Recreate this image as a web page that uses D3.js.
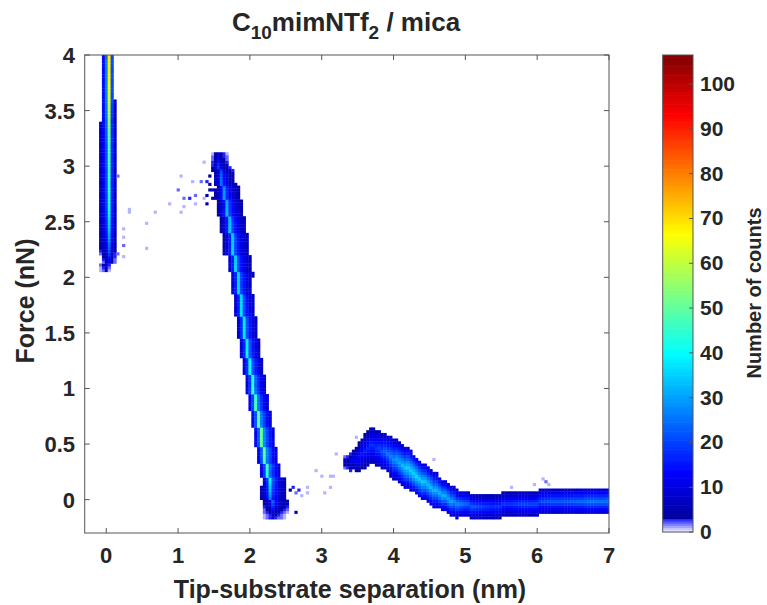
<!DOCTYPE html>
<html><head><meta charset="utf-8">
<script src="https://cdn.jsdelivr.net/npm/d3@7"></script>
<style>
body{margin:0;background:#fff;}
svg text{font-family:"Liberation Sans",Arial,Helvetica,sans-serif;font-weight:bold;fill:#262626;}
</style></head><body>
<svg id="chart" width="767" height="605"></svg>
<script>
// ---------------- data ----------------
const xTicks = [0, 1, 2, 3, 4, 5, 6, 7];
const yTicks = [0, 0.5, 1, 1.5, 2, 2.5, 3, 3.5, 4];
const yTickLabels = ["0", "0.5", "1", "1.5", "2", "2.5", "3", "3.5", "4"];
const cbTicks = [0, 10, 20, 30, 40, 50, 60, 70, 80, 90, 100];
const countMax = 106.5;
const binX = 0.04, binF = 0.025;   // 2D histogram bin size (nm, nN)

// Branch A: hard-wall branch near 0 nm (anchors by force)
const wallF     = [2.06, 2.12, 2.25, 2.40, 2.60, 2.80, 3.00, 3.20, 3.40, 3.60, 3.80, 4.00];
const wallX     = [0.01, 0.02, 0.03, 0.04, 0.04, 0.04, 0.04, 0.04, 0.04, 0.04, 0.04, 0.04];
const wallHalfL = [0.08, 0.10, 0.13, 0.13, 0.13, 0.12, 0.12, 0.12, 0.12, 0.11, 0.10, 0.10];
const wallHalfR = [0.06, 0.08, 0.10, 0.10, 0.09, 0.09, 0.09, 0.09, 0.08, 0.08, 0.07, 0.07];
const wallPeak  = [5, 10, 22, 32, 40, 44, 46, 48, 54, 62, 68, 68];

// Branch B: steep branch between 3.1 nN and the last layer (anchors by force)
const layerF     = [-0.15, -0.05, 0.05, 0.20, 0.40, 0.60, 0.80, 1.00, 1.20, 1.40, 1.60, 1.80, 2.00, 2.20, 2.40, 2.60, 2.80, 2.90, 3.00, 3.10];
const layerX     = [2.32, 2.31, 2.29, 2.26, 2.20, 2.15, 2.10, 2.05, 2.00, 1.95, 1.91, 1.87, 1.83, 1.78, 1.74, 1.69, 1.63, 1.60, 1.57, 1.54];
const layerHalfL = [0.12, 0.14, 0.13, 0.11, 0.11, 0.11, 0.11, 0.11, 0.11, 0.11, 0.11, 0.11, 0.11, 0.12, 0.12, 0.12, 0.12, 0.11, 0.10, 0.08];
const layerHalfR = [0.18, 0.24, 0.22, 0.20, 0.19, 0.19, 0.19, 0.19, 0.19, 0.19, 0.19, 0.19, 0.20, 0.21, 0.22, 0.22, 0.21, 0.19, 0.16, 0.12];
const layerPeak  = [6, 18, 30, 42, 50, 52, 48, 44, 40, 38, 38, 36, 36, 35, 34, 32, 28, 24, 18, 10];

// Branch C: outer layer and flat tail (anchors by separation)
const outerX    = [3.33, 3.40, 3.50, 3.60, 3.70, 3.80, 3.90, 4.00, 4.10, 4.20, 4.30, 4.40, 4.50, 4.60, 4.70, 4.80, 4.90, 5.00, 5.20, 5.40, 5.60, 5.80, 6.00, 6.20, 6.40, 6.60, 6.80, 7.00];
const outerF    = [0.35, 0.34, 0.38, 0.44, 0.49, 0.46, 0.42, 0.37, 0.33, 0.28, 0.23, 0.17, 0.125, 0.08, 0.035, -0.01, -0.03, -0.046, -0.06, -0.055, -0.045, -0.035, -0.025, -0.015, -0.01, -0.005, 0.0, 0.0];
const outerHalf = [0.05, 0.08, 0.12, 0.15, 0.17, 0.17, 0.17, 0.18, 0.18, 0.18, 0.17, 0.17, 0.16, 0.15, 0.14, 0.135, 0.125, 0.12, 0.11, 0.11, 0.11, 0.115, 0.12, 0.12, 0.12, 0.12, 0.12, 0.12];
const outerPeak = [6, 10, 14, 16, 18, 20, 24, 28, 32, 35, 36, 35, 33, 32, 32, 30, 26, 24, 20, 18, 18, 20, 20, 22, 22, 24, 25, 25];

// count fraction across a band, at normalised distance 0, .2, .45, .7, 1 from the ridge
const wallProfile  = [1, 0.55, 0.36, 0.24, 0.13];
const layerProfile = [1, 0.55, 0.38, 0.25, 0.13];
const outerProfile = [1, 0.85, 0.65, 0.45, 0.25];

// isolated sparse counts
const strayX = [0.15, 0.13, 0.17, 0.22, 0.24, 0.22, 0.25, 0.31, 0.31, 0.55, 0.58, 0.66, 0.87, 0.99, 1.02, 1.06, 1.08, 1.15, 1.20, 1.22, 1.22, 1.31, 1.34, 1.36, 1.38, 1.38, 1.43, 1.40, 1.05, 1.42, 1.46, 1.46, 1.42, 1.46, 1.50,
                2.56, 2.60, 2.64, 2.68, 2.72, 2.63, 2.79, 2.82, 2.93, 3.00, 3.12, 3.05, 3.10, 3.21, 3.14, 3.47, 6.09, 6.13, 6.17, 5.95, 5.62, 4.55];
const strayF = [2.91, 2.43, 2.22, 2.36, 2.30, 2.18, 2.43, 2.62, 2.58, 2.27, 2.50, 2.59, 2.67, 2.79, 2.91, 2.65, 2.71, 2.70, 2.86, 2.74, 2.67, 2.86, 3.04, 2.71, 2.86, 2.73, 2.85, 2.67, 2.60, 2.78, 2.80, 2.70, 2.92, 2.95, 3.05,
                0.08, 0.10, 0.06, 0.08, 0.05, -0.10, 0.10, 0.07, 0.26, 0.22, 0.22, 0.07, 0.11, 0.42, 0.22, 0.57, 0.19, 0.17, 0.15, 0.14, 0.12, 0.36];
const strayN = [2, 3, 2, 1, 2, 1, 1, 1, 1, 1, 1, 1, 1, 2, 1, 1, 2, 3, 1, 2, 1, 2, 1, 1, 3, 4, 5, 4, 1, 6, 8, 6, 4, 5, 5,
                4, 3, 2, 3, 1, 5, 1, 1, 1, 1, 1, 1, 1, 1, 1, 1, 1, 2, 1, 1, 1, 1];

// ---------------- layout ----------------
const svg = d3.select("#chart");
const X0 = -0.3, X1 = 7, F0 = -0.3, F1 = 4;
const xs = d3.scaleLinear().domain([X0, X1]).range([84.7, 609]);
const ys = d3.scaleLinear().domain([F0, F1]).range([533, 55]);

// colour map: white -> blue for the lowest counts, then jet
const clamp = v => Math.max(0, Math.min(1, v));
function jet(t) {
  return d3.rgb(255 * clamp(1.5 - Math.abs(4 * t - 3)), 255 * clamp(1.5 - Math.abs(4 * t - 2)), 255 * clamp(1.5 - Math.abs(4 * t - 1)));
}
const lowColor = d3.interpolateRgb("#ffffff", "#1e1eff");
function countColor(v) { return v <= 3 ? lowColor(v / 3) : jet(v / countMax).toString(); }

// ---------------- histogram cells ----------------
const cells = new Map();
function put(i, j, n) {
  if (n < 1) return;
  const k = i + "," + j;
  cells.set(k, Math.max(cells.get(k) || 0, n));
}
const colOf = x => Math.floor((x - X0) / binX);
const rowOf = f => Math.floor((f - F0) / binF);
const profDom = [0, 0.2, 0.45, 0.7, 1];

function sorted(keys, vals) {
  const ord = d3.range(keys.length).sort((a, b) => keys[a] - keys[b]);
  return d3.scaleLinear().domain(ord.map(k => keys[k])).range(ord.map(k => vals[k])).clamp(true);
}

function rowBranch(Fs, Xs, HL, HR, P, profile) {
  const sx = sorted(Fs, Xs), sl = sorted(Fs, HL), sr = sorted(Fs, HR), sp = sorted(Fs, P);
  const prof = d3.scaleLinear().domain(profDom).range(profile);
  const [fmin, fmax] = d3.extent(Fs);
  for (let j = rowOf(fmin); j <= rowOf(fmax); j++) {
    const fc = F0 + (j + 0.5) * binF;
    const iR = colOf(sx(fc)), hl = sl(fc), hr = sr(fc), p = sp(fc);
    for (let k = -10; k <= 10; k++) {
      const d = Math.abs(k) * binX, nd = d / (k < 0 ? hl : hr);
      if (nd > 1.0001) continue;
      put(iR + k, j, Math.round(p * prof(nd)));
    }
  }
}
function colBranch(Xs, Fs, H, P, profile) {
  const sf = sorted(Xs, Fs), sh = sorted(Xs, H), sp = sorted(Xs, P);
  const prof = d3.scaleLinear().domain(profDom).range(profile);
  const [xmin, xmax] = d3.extent(Xs);
  for (let i = colOf(xmin); i <= colOf(xmax); i++) {
    const xc = X0 + (i + 0.5) * binX;
    const jR = rowOf(sf(xc)), h = sh(xc), p = sp(xc);
    for (let k = -10; k <= 10; k++) {
      const nd = Math.abs(k) * binF / h;
      if (nd > 1.0001) continue;
      put(i, jR + k, Math.round(p * prof(nd)));
    }
  }
}
rowBranch(wallF, wallX, wallHalfL, wallHalfR, wallPeak, wallProfile);
rowBranch(layerF, layerX, layerHalfL, layerHalfR, layerPeak, layerProfile);
colBranch(outerX, outerF, outerHalf, outerPeak, outerProfile);
strayX.forEach((x, k) => put(colOf(x), rowOf(strayF[k]), strayN[k]));

const cellData = Array.from(cells, ([k, n]) => { const [i, j] = k.split(",").map(Number); return { i, j, n }; });

svg.append("defs").append("clipPath").attr("id", "plotclip")
  .append("rect").attr("x", xs(X0)).attr("y", ys(F1)).attr("width", xs(X1) - xs(X0)).attr("height", ys(F0) - ys(F1));

const cw = xs(binX) - xs(0), ch = ys(0) - ys(binF);
svg.append("g").attr("clip-path", "url(#plotclip)")
  .selectAll("rect").data(cellData).join("rect")
  .attr("x", d => xs(X0 + d.i * binX))
  .attr("y", d => ys(F0 + (d.j + 1) * binF))
  .attr("width", cw + 0.35).attr("height", ch + 0.35)
  .attr("fill", d => countColor(d.n));

// ---------------- axes ----------------
const axisColor = "#555555";
const frame = svg.append("g");
frame.append("rect").attr("x", xs(X0)).attr("y", ys(F1)).attr("width", xs(X1) - xs(X0)).attr("height", ys(F0) - ys(F1))
  .attr("fill", "none").attr("stroke", axisColor).attr("stroke-width", 1);
const tl = 5;
xTicks.forEach(t => {
  frame.append("line").attr("x1", xs(t)).attr("x2", xs(t)).attr("y1", ys(F0)).attr("y2", ys(F0) - tl).attr("stroke", axisColor);
  frame.append("line").attr("x1", xs(t)).attr("x2", xs(t)).attr("y1", ys(F1)).attr("y2", ys(F1) + tl).attr("stroke", axisColor);
  frame.append("text").attr("x", xs(t)).attr("y", 563).attr("text-anchor", "middle").attr("font-size", 22).text(t);
});
yTicks.forEach((t, k) => {
  frame.append("line").attr("x1", xs(X0)).attr("x2", xs(X0) + tl).attr("y1", ys(t)).attr("y2", ys(t)).attr("stroke", axisColor);
  frame.append("line").attr("x1", xs(X1)).attr("x2", xs(X1) - tl).attr("y1", ys(t)).attr("y2", ys(t)).attr("stroke", axisColor);
  frame.append("text").attr("x", 75).attr("y", ys(t) + 8).attr("text-anchor", "end").attr("font-size", 22).text(yTickLabels[k]);
});

// title
const title = svg.append("text").attr("x", 346).attr("y", 31).attr("text-anchor", "middle").attr("font-size", 26);
title.append("tspan").text("C");
title.append("tspan").attr("font-size", 19).attr("dy", 8).text("10");
title.append("tspan").attr("dy", -8).text("mimNTf");
title.append("tspan").attr("font-size", 19).attr("dy", 8).text("2");
title.append("tspan").attr("dy", -8).text(" / mica");

// axis labels
svg.append("text").attr("x", 350).attr("y", 598).attr("text-anchor", "middle").attr("font-size", 25)
  .text("Tip-substrate separation (nm)");
svg.append("text").attr("transform", "translate(34,301) rotate(-90)").attr("text-anchor", "middle").attr("font-size", 25)
  .text("Force (nN)");

// ---------------- colour bar ----------------
const cb = d3.scaleLinear().domain([0, countMax]).range([532, 55]);
const cbX = 662.7, cbW = 30.3;
const cbG = svg.append("g");
const cbSteps = d3.range(0, countMax, 0.5);
cbG.selectAll("rect.s").data(cbSteps).join("rect").attr("class", "s")
  .attr("x", cbX).attr("width", cbW)
  .attr("y", v => cb(Math.min(v + 0.5, countMax))).attr("height", v => cb(v) - cb(Math.min(v + 0.5, countMax)) + 0.6)
  .attr("fill", v => countColor(v + 0.25));
cbG.append("rect").attr("x", cbX).attr("y", cb(countMax)).attr("width", cbW).attr("height", cb(0) - cb(countMax))
  .attr("fill", "none").attr("stroke", axisColor);
cbTicks.forEach(t => {
  cbG.append("line").attr("x1", cbX + cbW - 4).attr("x2", cbX + cbW).attr("y1", cb(t)).attr("y2", cb(t)).attr("stroke", axisColor);
  cbG.append("text").attr("x", 700).attr("y", cb(t) + 7).attr("font-size", 21).text(t);
});
svg.append("text").attr("transform", "translate(761,293) rotate(-90)").attr("text-anchor", "middle").attr("font-size", 20)
  .text("Number of counts");
</script>
</body></html>
